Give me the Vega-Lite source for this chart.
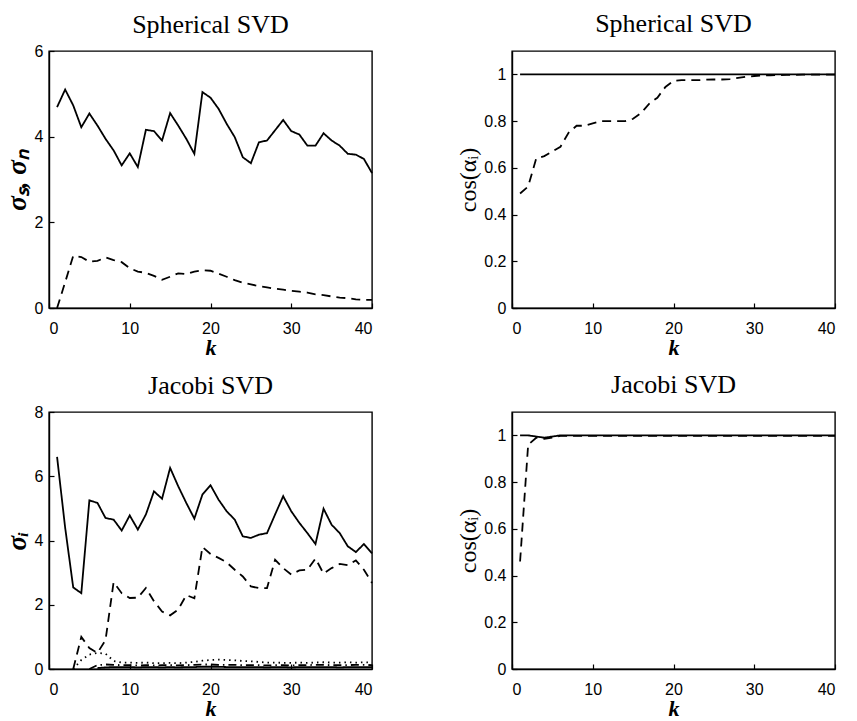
{
  "$schema": "https://vega.github.io/schema/vega-lite/v6.json",
  "background": "white",
  "autosize": {"type": "pad"},
  "padding": {"left": 2, "top": 10, "right": 5, "bottom": 0},
  "columns": 2,
  "bounds": "flush",
  "spacing": {"row": 104, "column": 140},
  "datasets": {
    "tl": [
      {"k":1,"solid":4.69,"dashed":0},{"k":2,"solid":5.10,"dashed":0.60},{"k":3,"solid":4.73,"dashed":1.22},{"k":4,"solid":4.22,"dashed":1.19},
      {"k":5,"solid":4.54,"dashed":1.08},{"k":6,"solid":4.26,"dashed":1.10},{"k":7,"solid":3.95,"dashed":1.18},{"k":8,"solid":3.68,"dashed":1.12},
      {"k":9,"solid":3.33,"dashed":1.07},{"k":10,"solid":3.61,"dashed":0.93},{"k":11,"solid":3.29,"dashed":0.85},{"k":12,"solid":4.16,"dashed":0.82},
      {"k":13,"solid":4.13,"dashed":0.75},{"k":14,"solid":3.91,"dashed":0.66},{"k":15,"solid":4.55,"dashed":0.73},{"k":16,"solid":4.26,"dashed":0.81},
      {"k":17,"solid":3.95,"dashed":0.79},{"k":18,"solid":3.60,"dashed":0.85},{"k":19,"solid":5.04,"dashed":0.88},{"k":20,"solid":4.91,"dashed":0.87},
      {"k":21,"solid":4.65,"dashed":0.80},{"k":22,"solid":4.30,"dashed":0.73},{"k":23,"solid":3.99,"dashed":0.65},{"k":24,"solid":3.52,"dashed":0.59},
      {"k":25,"solid":3.38,"dashed":0.55},{"k":26,"solid":3.87,"dashed":0.51},{"k":27,"solid":3.91,"dashed":0.48},{"k":28,"solid":4.15,"dashed":0.45},
      {"k":29,"solid":4.39,"dashed":0.43},{"k":30,"solid":4.13,"dashed":0.40},{"k":31,"solid":4.05,"dashed":0.38},{"k":32,"solid":3.79,"dashed":0.36},
      {"k":33,"solid":3.79,"dashed":0.32},{"k":34,"solid":4.08,"dashed":0.30},{"k":35,"solid":3.91,"dashed":0.27},{"k":36,"solid":3.79,"dashed":0.24},
      {"k":37,"solid":3.60,"dashed":0.23},{"k":38,"solid":3.58,"dashed":0.20},{"k":39,"solid":3.48,"dashed":0.19},{"k":40,"solid":3.15,"dashed":0.19}
    ],
    "tr": [
      {"k":1,"solid":1,"dashed":0.49},{"k":2,"solid":1,"dashed":0.52},{"k":3,"solid":1,"dashed":0.64},{"k":4,"solid":1,"dashed":0.65},
      {"k":5,"solid":1,"dashed":0.67},{"k":6,"solid":1,"dashed":0.69},{"k":7,"solid":1,"dashed":0.75},{"k":8,"solid":1,"dashed":0.78},
      {"k":9,"solid":1,"dashed":0.78},{"k":10,"solid":1,"dashed":0.79},{"k":11,"solid":1,"dashed":0.80},{"k":12,"solid":1,"dashed":0.80},
      {"k":13,"solid":1,"dashed":0.80},{"k":14,"solid":1,"dashed":0.80},{"k":15,"solid":1,"dashed":0.81},{"k":16,"solid":1,"dashed":0.835},
      {"k":17,"solid":1,"dashed":0.875},{"k":18,"solid":1,"dashed":0.90},{"k":19,"solid":1,"dashed":0.946},{"k":20,"solid":1,"dashed":0.972},
      {"k":21,"solid":1,"dashed":0.975},{"k":22,"solid":1,"dashed":0.975},{"k":23,"solid":1,"dashed":0.975},{"k":24,"solid":1,"dashed":0.977},
      {"k":25,"solid":1,"dashed":0.978},{"k":26,"solid":1,"dashed":0.978},{"k":27,"solid":1,"dashed":0.98},{"k":28,"solid":1,"dashed":0.985},
      {"k":29,"solid":1,"dashed":0.99},{"k":30,"solid":1,"dashed":0.993},{"k":31,"solid":1,"dashed":0.995},{"k":32,"solid":1,"dashed":0.996},
      {"k":33,"solid":1,"dashed":0.997},{"k":34,"solid":1,"dashed":0.998},{"k":35,"solid":1,"dashed":0.998},{"k":36,"solid":1,"dashed":0.999},
      {"k":37,"solid":1,"dashed":0.999},{"k":38,"solid":1,"dashed":0.999},{"k":39,"solid":1,"dashed":0.999},{"k":40,"solid":1,"dashed":0.999}
    ],
    "bl": [
      {"k":1,"solid":6.6},{"k":2,"solid":4.4},
      {"k":3,"solid":2.54,"dashed":0,"dotted":0},
      {"k":4,"solid":2.36,"dashed":1.0,"dotted":0.28},
      {"k":5,"solid":5.25,"dashed":0.65,"dotted":0.45,"dashdot":0},
      {"k":6,"solid":5.17,"dashed":0.5,"dotted":0.5,"dashdot":0.12,"solid2":0.03},
      {"k":7,"solid":4.70,"dashed":0.9,"dotted":0.48,"dashdot":0.14,"solid2":0.05},
      {"k":8,"solid":4.65,"dashed":2.7,"dotted":0.25,"dashdot":0.13,"solid2":0.06},
      {"k":9,"solid":4.31,"dashed":2.36,"dotted":0.2,"dashdot":0.12,"solid2":0.06},
      {"k":10,"solid":4.78,"dashed":2.21,"dotted":0.2,"dashdot":0.12,"solid2":0.06},
      {"k":11,"solid":4.34,"dashed":2.22,"dotted":0.19,"dashdot":0.11,"solid2":0.05},
      {"k":12,"solid":4.81,"dashed":2.52,"dotted":0.2,"dashdot":0.12,"solid2":0.06},
      {"k":13,"solid":5.53,"dashed":2.11,"dotted":0.18,"dashdot":0.11,"solid2":0.06},
      {"k":14,"solid":5.30,"dashed":1.79,"dotted":0.18,"dashdot":0.12,"solid2":0.05},
      {"k":15,"solid":6.26,"dashed":1.67,"dotted":0.19,"dashdot":0.12,"solid2":0.06},
      {"k":16,"solid":5.69,"dashed":1.85,"dotted":0.18,"dashdot":0.11,"solid2":0.05},
      {"k":17,"solid":5.17,"dashed":2.3,"dotted":0.2,"dashdot":0.12,"solid2":0.06},
      {"k":18,"solid":4.68,"dashed":2.2,"dotted":0.22,"dashdot":0.13,"solid2":0.06},
      {"k":19,"solid":5.43,"dashed":3.8,"dotted":0.26,"dashdot":0.14,"solid2":0.07},
      {"k":20,"solid":5.72,"dashed":3.58,"dotted":0.28,"dashdot":0.14,"solid2":0.07},
      {"k":21,"solid":5.27,"dashed":3.46,"dotted":0.29,"dashdot":0.13,"solid2":0.07},
      {"k":22,"solid":4.91,"dashed":3.32,"dotted":0.28,"dashdot":0.13,"solid2":0.06},
      {"k":23,"solid":4.65,"dashed":3.09,"dotted":0.27,"dashdot":0.13,"solid2":0.06},
      {"k":24,"solid":4.13,"dashed":2.88,"dotted":0.25,"dashdot":0.12,"solid2":0.06},
      {"k":25,"solid":4.08,"dashed":2.57,"dotted":0.24,"dashdot":0.12,"solid2":0.06},
      {"k":26,"solid":4.18,"dashed":2.52,"dotted":0.22,"dashdot":0.12,"solid2":0.06},
      {"k":27,"solid":4.23,"dashed":2.52,"dotted":0.2,"dashdot":0.11,"solid2":0.05},
      {"k":28,"solid":4.81,"dashed":3.4,"dotted":0.2,"dashdot":0.12,"solid2":0.06},
      {"k":29,"solid":5.38,"dashed":3.14,"dotted":0.19,"dashdot":0.12,"solid2":0.06},
      {"k":30,"solid":4.91,"dashed":2.94,"dotted":0.19,"dashdot":0.11,"solid2":0.05},
      {"k":31,"solid":4.55,"dashed":3.07,"dotted":0.2,"dashdot":0.12,"solid2":0.06},
      {"k":32,"solid":4.23,"dashed":3.09,"dotted":0.19,"dashdot":0.12,"solid2":0.06},
      {"k":33,"solid":3.89,"dashed":3.44,"dotted":0.2,"dashdot":0.13,"solid2":0.06},
      {"k":34,"solid":4.99,"dashed":2.97,"dotted":0.21,"dashdot":0.13,"solid2":0.06},
      {"k":35,"solid":4.49,"dashed":3.14,"dotted":0.2,"dashdot":0.12,"solid2":0.06},
      {"k":36,"solid":4.23,"dashed":3.27,"dotted":0.2,"dashdot":0.12,"solid2":0.05},
      {"k":37,"solid":3.82,"dashed":3.23,"dotted":0.21,"dashdot":0.12,"solid2":0.06},
      {"k":38,"solid":3.64,"dashed":3.38,"dotted":0.2,"dashdot":0.13,"solid2":0.06},
      {"k":39,"solid":3.89,"dashed":3.09,"dotted":0.21,"dashdot":0.13,"solid2":0.06},
      {"k":40,"solid":3.6,"dashed":2.68,"dotted":0.2,"dashdot":0.12,"solid2":0.06}
    ],
    "br": [
      {"k":1,"solid":1,"dashed":0.46},{"k":2,"solid":1,"dashed":0.96},{"k":3,"solid":0.995,"dashed":0.99},{"k":4,"solid":0.99,"dashed":0.985},
      {"k":5,"solid":0.995,"dashed":0.99},{"k":6,"solid":1,"dashed":0.998},{"k":7,"solid":1,"dashed":0.998},{"k":8,"solid":1,"dashed":0.998},
      {"k":9,"solid":1,"dashed":0.998},{"k":10,"solid":1,"dashed":0.998},{"k":11,"solid":1,"dashed":0.998},{"k":12,"solid":1,"dashed":0.998},
      {"k":13,"solid":1,"dashed":0.998},{"k":14,"solid":1,"dashed":0.998},{"k":15,"solid":1,"dashed":0.998},{"k":16,"solid":1,"dashed":0.998},
      {"k":17,"solid":1,"dashed":0.998},{"k":18,"solid":1,"dashed":0.998},{"k":19,"solid":1,"dashed":0.998},{"k":20,"solid":1,"dashed":0.998},
      {"k":21,"solid":1,"dashed":0.998},{"k":22,"solid":1,"dashed":0.998},{"k":23,"solid":1,"dashed":0.998},{"k":24,"solid":1,"dashed":0.998},
      {"k":25,"solid":1,"dashed":0.998},{"k":26,"solid":1,"dashed":0.998},{"k":27,"solid":1,"dashed":0.998},{"k":28,"solid":1,"dashed":0.998},
      {"k":29,"solid":1,"dashed":0.998},{"k":30,"solid":1,"dashed":0.998},{"k":31,"solid":1,"dashed":0.998},{"k":32,"solid":1,"dashed":0.998},
      {"k":33,"solid":1,"dashed":0.998},{"k":34,"solid":1,"dashed":0.998},{"k":35,"solid":1,"dashed":0.998},{"k":36,"solid":1,"dashed":0.998},
      {"k":37,"solid":1,"dashed":0.998},{"k":38,"solid":1,"dashed":0.998},{"k":39,"solid":1,"dashed":0.998},{"k":40,"solid":1,"dashed":0.998}
    ]
  },
  "concat": [
    {
      "title": {"text": "Spherical SVD", "offset": 5},
      "width": 323, "height": 257,
      "data": {"name": "tl"},
      "transform": [{"fold": ["solid", "dashed"], "as": ["series", "v"]}],
      "mark": {"type": "line"},
      "encoding": {
        "x": {"field": "k", "type": "quantitative", "scale": {"domain": [0, 40], "nice": false}, "axis": {"values": [0, 10, 20, 30, 40], "title": "k"}},
        "y": {"field": "v", "type": "quantitative", "scale": {"domain": [0, 6], "nice": false}, "axis": {"values": [0, 2, 4, 6], "title": "σₛ, σₙ", "titleFontStyle": "italic", "titleFontSize": 27, "titlePadding": 3}},
        "strokeDash": {"field": "series", "type": "nominal", "legend": null, "scale": {"domain": ["solid", "dashed", "dotted", "dashdot", "solid2"], "range": [[1, 0], [9, 6], [1.5, 4], [8, 4, 1.5, 4], [1, 0]]}}
      }
    },
    {
      "title": {"text": "Spherical SVD", "offset": 14},
      "width": 323, "height": 257,
      "data": {"name": "tr"},
      "transform": [{"fold": ["solid", "dashed"], "as": ["series", "v"]}],
      "mark": {"type": "line"},
      "encoding": {
        "x": {"field": "k", "type": "quantitative", "scale": {"domain": [0, 40], "nice": false}, "axis": {"values": [0, 10, 20, 30, 40], "title": "k"}},
        "y": {"field": "v", "type": "quantitative", "scale": {"domain": [0, 1.1], "nice": false}, "axis": {"values": [0, 0.2, 0.4, 0.6, 0.8, 1], "format": "~g", "title": "cos(αᵢ)", "titleFontWeight": "normal", "titleFontSize": 24, "titlePadding": 3}},
        "strokeDash": {"field": "series", "type": "nominal", "legend": null, "scale": {"domain": ["solid", "dashed", "dotted", "dashdot", "solid2"], "range": [[1, 0], [9, 6], [1.5, 4], [8, 4, 1.5, 4], [1, 0]]}}
      }
    },
    {
      "title": {"text": "Jacobi SVD", "offset": 5},
      "width": 323, "height": 257,
      "data": {"name": "bl"},
      "transform": [{"fold": ["solid", "dashed", "dotted", "dashdot", "solid2"], "as": ["series", "v"]}],
      "mark": {"type": "line"},
      "encoding": {
        "x": {"field": "k", "type": "quantitative", "scale": {"domain": [0, 40], "nice": false}, "axis": {"values": [0, 10, 20, 30, 40], "title": "k"}},
        "y": {"field": "v", "type": "quantitative", "scale": {"domain": [0, 8], "nice": false}, "axis": {"values": [0, 2, 4, 6, 8], "title": "σᵢ", "titleFontStyle": "italic", "titleFontSize": 27, "titlePadding": 3}},
        "strokeDash": {"field": "series", "type": "nominal", "legend": null, "scale": {"domain": ["solid", "dashed", "dotted", "dashdot", "solid2"], "range": [[1, 0], [9, 6], [1.5, 4], [8, 4, 1.5, 4], [1, 0]]}}
      }
    },
    {
      "title": {"text": "Jacobi SVD", "offset": 14},
      "width": 323, "height": 257,
      "data": {"name": "br"},
      "transform": [{"fold": ["solid", "dashed"], "as": ["series", "v"]}],
      "mark": {"type": "line"},
      "encoding": {
        "x": {"field": "k", "type": "quantitative", "scale": {"domain": [0, 40], "nice": false}, "axis": {"values": [0, 10, 20, 30, 40], "title": "k"}},
        "y": {"field": "v", "type": "quantitative", "scale": {"domain": [0, 1.1], "nice": false}, "axis": {"values": [0, 0.2, 0.4, 0.6, 0.8, 1], "format": "~g", "title": "cos(αᵢ)", "titleFontWeight": "normal", "titleFontSize": 24, "titlePadding": 3}},
        "strokeDash": {"field": "series", "type": "nominal", "legend": null, "scale": {"domain": ["solid", "dashed", "dotted", "dashdot", "solid2"], "range": [[1, 0], [9, 6], [1.5, 4], [8, 4, 1.5, 4], [1, 0]]}}
      }
    }
  ],
  "config": {
    "view": {"stroke": "black", "strokeWidth": 1.4},
    "axis": {
      "grid": false, "domainColor": "black", "domainWidth": 1.4, "tickColor": "black", "tickSize": -5, "tickWidth": 1.2,
      "labelFont": "Liberation Sans", "labelFontSize": 16, "labelColor": "black",
      "titleFont": "Liberation Serif", "titleFontSize": 22, "titleColor": "black", "titleFontWeight": "bold"
    },
    "axisX": {"labelPadding": 17, "titlePadding": 1, "titleFontStyle": "italic"},
    "axisY": {"labelPadding": 11, "titlePadding": 4},
    "title": {"font": "Liberation Serif", "fontSize": 26, "fontWeight": "normal", "color": "black", "baseline": "alphabetic", "frame": "group"},
    "line": {"color": "black", "strokeWidth": 1.8}
  }
}
